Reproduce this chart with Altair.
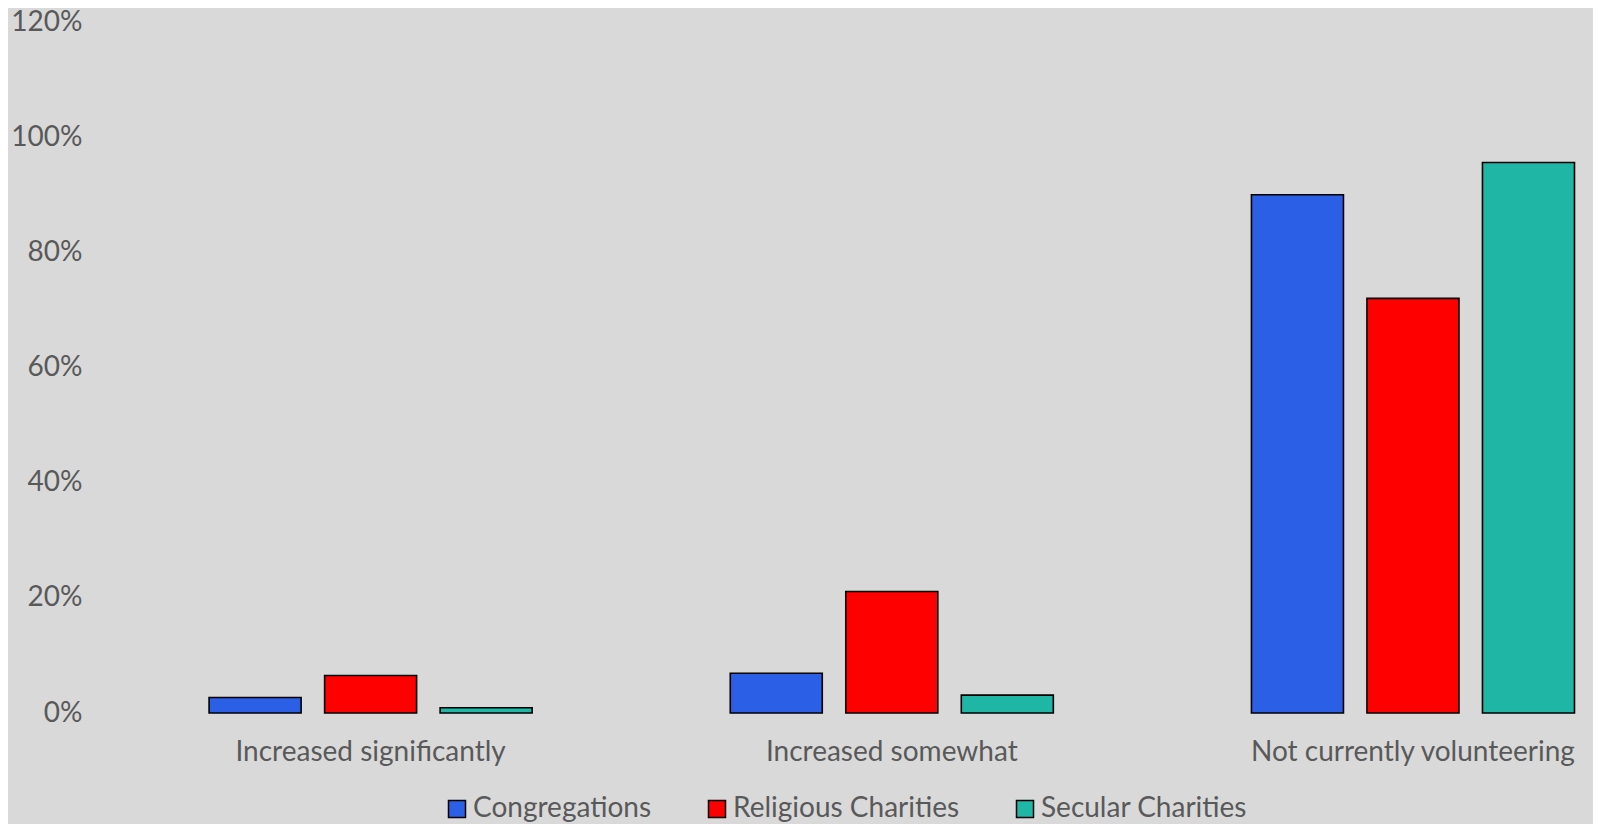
import altair as alt
import pandas as pd

categories = ["Increased significantly", "Increased somewhat", "Not currently volunteering"]
series = ["Congregations", "Religious Charities", "Secular Charities"]
congregations = [0.027, 0.069, 0.900]
religious = [0.065, 0.211, 0.720]
secular = [0.009, 0.031, 0.956]
colors = ["#2A5FE6", "#FF0000", "#20B6A6"]

rows = []
for i, c in enumerate(categories):
    for s, vals in zip(series, [congregations, religious, secular]):
        rows.append({"category": c, "series": s, "value": vals[i]})
df = pd.DataFrame(rows)

FONT = "Lato"
GRAY = "#595959"
FS = 28

chart = alt.Chart(df).mark_bar(stroke="black", strokeWidth=1.6).encode(
    x=alt.X("category:N", sort=categories, title=None,
            scale=alt.Scale(paddingInner=0.3283, paddingOuter=0.0821, align=1, round=False),
            axis=alt.Axis(labelAngle=0, domain=False, ticks=False, labelPadding=47,
                          labelBaseline="alphabetic", labelLimit=0,
                          labelFontSize=FS, labelColor=GRAY, labelFont=FONT)),
    xOffset=alt.XOffset("series:N", sort=series,
                        scale=alt.Scale(paddingInner=0.2035, paddingOuter=0.117, round=False)),
    y=alt.Y("value:Q", title=None,
            scale=alt.Scale(domain=[0, 1.2], nice=False),
            axis=alt.Axis(format=".0%", values=[0, 0.2, 0.4, 0.6, 0.8, 1.0, 1.2],
                          grid=False, domain=False, ticks=False, labelPadding=28,
                          labelLimit=0,
                          labelFontSize=FS, labelColor=GRAY, labelFont=FONT)),
    color=alt.Color("series:N", sort=series,
                    scale=alt.Scale(domain=series, range=colors),
                    legend=alt.Legend(title=None, orient="none", direction="horizontal",
                                      legendX=333, legendY=773,
                                      symbolType="square", symbolSize=289,
                                      symbolStrokeColor="black", symbolStrokeWidth=1.5,
                                      labelFontSize=FS, labelColor=GRAY, labelFont=FONT,
                                      labelLimit=0,
                                      labelOffset=2, columnPadding=51, padding=0)),
).properties(
    width=1478, height=691,
    background="#D9D9D9",
    autosize=alt.AutoSizeParams(type="none"),
    padding={"left": 102, "top": 14, "right": 5, "bottom": 111},
).configure_view(stroke=None)

chart.save("out.html", embed_options={"renderer": "svg", "actions": False})
